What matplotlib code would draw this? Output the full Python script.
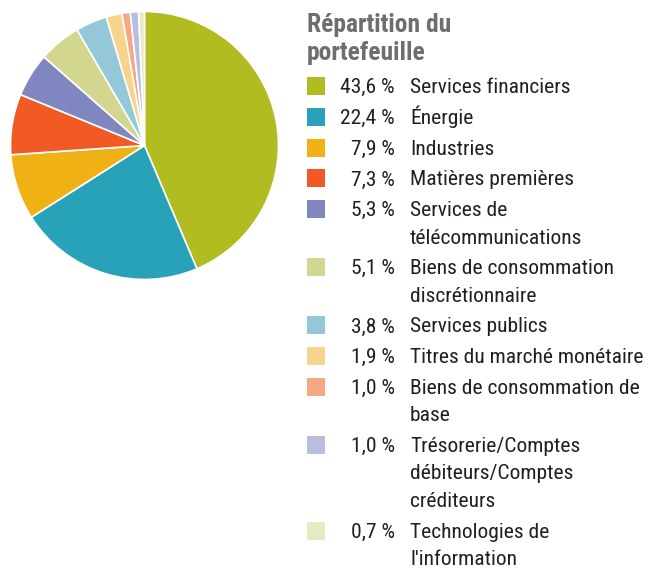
import matplotlib
matplotlib.use("Agg")
import matplotlib.pyplot as plt
from matplotlib.patches import Rectangle
from matplotlib import font_manager

# ---- data ----
title = "Répartition du\nportefeuille"
sectors = [
    "Services financiers",
    "Énergie",
    "Industries",
    "Matières premières",
    "Services de\ntélécommunications",
    "Biens de consommation\ndiscrétionnaire",
    "Services publics",
    "Titres du marché monétaire",
    "Biens de consommation de\nbase",
    "Trésorerie/Comptes\ndébiteurs/Comptes\ncréditeurs",
    "Technologies de\nl'information",
]
weights = [43.6, 22.4, 7.9, 7.3, 5.3, 5.1, 3.8, 1.9, 1.0, 1.0, 0.7]
colors = ["#B1BC21", "#28A2B9", "#F0B114", "#F15A24", "#8087C0", "#D3D68F",
          "#93C8D8", "#F8D38B", "#F6A784", "#B9BDDF", "#E4EBC3"]

W, H = 648, 568
names = {f.name for f in font_manager.fontManager.ttflist}
for cand in ["Roboto Condensed", "Liberation Sans Narrow", "Open Sans Condensed",
             "Noto Sans Condensed", "Roboto"]:
    if cand in names:
        break
plt.rcParams["font.family"] = [cand, "DejaVu Sans"]


def fx(x):
    return x / W


def fy(y):
    return 1 - y / H


fig = plt.figure(figsize=(W / 100, H / 100), dpi=100)
rend = fig.canvas.get_renderer()


def fit(s, target, **kw):
    # font size that makes text s about target px wide
    t = fig.text(0, 0, s, fontsize=14, **kw)
    wpx = t.get_window_extent(rend).width
    t.remove()
    return 14 * target / wpx


fs = min(16, fit("Titres du marché monétaire", 235))
fs_title = min(19, fit("Répartition du", 145, fontweight="bold"))

# ---- pie ----
cx, cy, r = 144.5, 145.5, 134
ax = fig.add_axes([fx(cx - r), fy(cy + r), 2 * r / W, 2 * r / H])
ax.pie(weights, colors=colors, startangle=90, counterclock=False,
       wedgeprops=dict(edgecolor="white", linewidth=1.2))
ax.set_xlim(-1, 1); ax.set_ylim(-1, 1)
ax.set_aspect("equal")
ax.axis("off")

# ---- legend ----
for i, line in enumerate(title.split("\n")):
    fig.text(fx(307), fy(32 + 28 * i), line, fontsize=fs_title, fontweight="bold",
             color="#6D6E70", va="baseline", ha="left")

y = 86
line_h, gap = 27.3, 3.5
for name, w, c in zip(sectors, weights, colors):
    fig.patches.append(Rectangle((fx(307), fy(y + 9)), 18 / W, 18 / H,
                                 transform=fig.transFigure, facecolor=c,
                                 edgecolor="none"))
    fig.text(fx(395), fy(y + 7), f"{w:.1f} %".replace(".", ","), fontsize=fs,
             color="#231F20", ha="right", va="baseline")
    lines = name.split("\n")
    for k, ln in enumerate(lines):
        fig.text(fx(410), fy(y + 7 + k * line_h), ln, fontsize=fs,
                 color="#231F20", ha="left", va="baseline")
    y += len(lines) * line_h + gap

fig.savefig("out.png", dpi=100)
